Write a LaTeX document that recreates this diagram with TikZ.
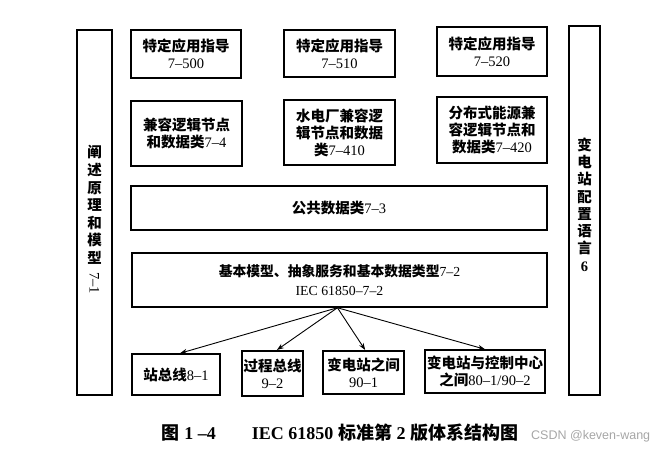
\documentclass[tikz,border=0pt]{standalone}
\usepackage{fontspec}
\setmainfont{Liberation Serif}
\newfontfamily\cjkfont{Noto Sans CJK SC}
\newfontfamily\wmfont{Liberation Sans}
\newcommand\zh[1]{{\cjkfont\bfseries #1}}
\usetikzlibrary{arrows.meta,calc}
\begin{document}
\begin{tikzpicture}[x=1pt,y=-1pt,
  box/.style={draw,line width=1.5pt,inner sep=0pt,align=center,
    font=\fontsize{14.5}{17}\selectfont},
  thickbox/.style={box,line width=2.1pt},
  panel/.style={draw,line width=1.5pt,inner sep=0pt},
  vtext/.style={inner sep=0pt,align=center,font=\fontsize{14.5}{17.6}\selectfont},
  arr/.style={line width=0.9pt,-{Stealth[length=7pt,width=5pt]}}]
\useasboundingbox (0,0) rectangle (656,450);
% side panels
\node[panel,minimum width=35,minimum height=365] (lp) at (94.5,212.5) {};
\node[panel,minimum width=31,minimum height=369] (rp) at (584.5,210.5) {};
\node[vtext] (lpt) at (94.5,205) {\zh{阐}\\\zh{述}\\\zh{原}\\\zh{理}\\\zh{和}\\\zh{模}\\\zh{型}};
\node[inner sep=0pt,rotate=-90,font=\fontsize{14.5}{16}\selectfont] (lpn) at (94.5,283) {7–1};
\node[vtext,font=\fontsize{14.5}{17.2}\selectfont] (rpt) at (584.5,196.5) {\zh{变}\\\zh{电}\\\zh{站}\\\zh{配}\\\zh{置}\\\zh{语}\\\zh{言}};
\node[inner sep=0pt,font=\bfseries\fontsize{14.5}{16}\selectfont] (rpn) at (584.5,267) {6};
% row 1
\node[box,minimum width=110,minimum height=48] (r1a) at (186,54) {\zh{特定应用指导}\\7–500};
\node[box,minimum width=111,minimum height=47] (r1b) at (339.5,53.5) {\zh{特定应用指导}\\7–510};
\node[box,minimum width=110,minimum height=49] (r1c) at (492,51.5) {\zh{特定应用指导}\\7–520};
% row 2
\node[box,minimum width=111,minimum height=65] (r2a) at (186.5,133.5) {\zh{兼容逻辑节点}\\\zh{和数据类}7–4};
\node[box,minimum width=111,minimum height=65] (r2b) at (339.5,132.5) {\zh{水电厂兼容逻}\\\zh{辑节点和数据}\\\zh{类}7–410};
\node[box,minimum width=110,minimum height=66] (r2c) at (492,130) {\zh{分布式能源兼}\\\zh{容逻辑节点和}\\\zh{数据类}7–420};
% common data class
\node[box,minimum width=416,minimum height=44] (cdc) at (339,208) {\zh{公共数据类}7–3};
% model
\node[box,minimum width=415,minimum height=54,font=\fontsize{13.8}{19}\selectfont] (mdl) at (339.5,280) {\zh{基本模型、抽象服务和基本数据类型}7–2\\IEC 61850–7–2};
% bottom row
\node[box,minimum width=88,minimum height=41] (b1) at (176,374.5) {\zh{站总线}8–1};
\node[thickbox,minimum width=61,minimum height=45] (b2) at (272.5,373.5) {\zh{过程总线}\\9–2};
\node[thickbox,minimum width=81,minimum height=43] (b3) at (363.5,372.5) {\zh{变电站之间}\\90–1};
\node[box,minimum width=120,minimum height=43] (b4) at (485,371.5) {\zh{变电站与控制中心}\\\zh{之间}80–1/90–2};
% arrows
\coordinate (src) at ($(mdl.south west)!0.495!(mdl.south east)$);
\coordinate (t1) at ($(b1.north west)!0.545!(b1.north east)$);
\coordinate (t2) at ($(b2.north west)!0.57!(b2.north east)$);
\coordinate (t3) at ($(b3.north west)!0.52!(b3.north east)$);
\coordinate (t4) at ($(b4.north west)!0.5!(b4.north east)$);
\draw[arr] (src) -- (t1);
\draw[arr] (src) -- (t2);
\draw[arr] (src) -- (t3);
\draw[arr] (src) -- (t4);
% caption
\node[inner sep=0pt,font=\bfseries\fontsize{18}{20}\selectfont] (cap) at (340,433) {\zh{图} 1 –4\qquad IEC 61850 \zh{标准第} 2 \zh{版体系结构图}};
\node[inner sep=0pt,anchor=west,text=black!35,font=\wmfont\fontsize{12.5}{14}\selectfont] (wm) at (531,436) {CSDN @keven-wang};
\end{tikzpicture}
\end{document}
